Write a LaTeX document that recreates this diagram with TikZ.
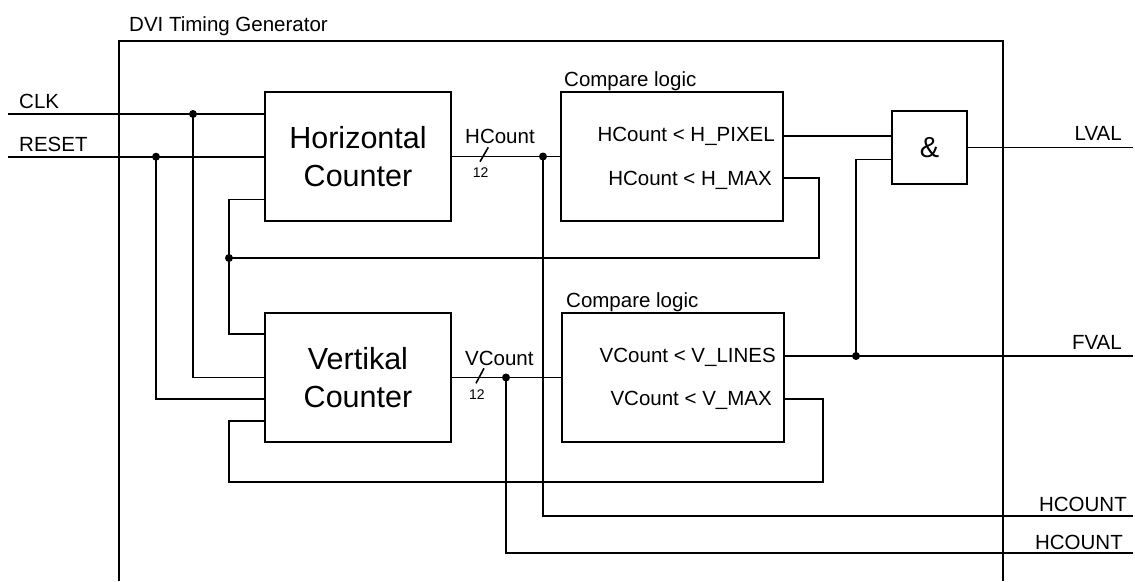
\documentclass[tikz,border=0pt]{standalone}
\usepackage{fontspec}
\setmainfont{Liberation Sans}
\newcommand\fsN{\fontsize{20.5}{24}\selectfont}
\newcommand\fsS{\fontsize{14}{16}\selectfont}
\newcommand\fsB{\fontsize{30.5}{37.3}\selectfont}
\newcommand\fsA{\fontsize{29}{32}\selectfont}
\begin{document}
\begin{tikzpicture}[x=1pt,y=-1pt,
  frame/.style={line width=2.8pt},
  box/.style={draw, line width=2.6pt, inner sep=0pt, outer sep=0pt},
  wire/.style={line width=1.6pt},
  dot/.style={circle, fill=black, inner sep=0pt, minimum size=8pt},
  lbl/.style={inner sep=0pt, font=\fsN},
  small/.style={inner sep=0pt, font=\fsS}]
\useasboundingbox (0,0) rectangle (1135,581);

% outer frame (open at the bottom)
\draw[frame] (119,581) -- (119,41) -- (1003,41) -- (1003,581);
\node[lbl, anchor=base west] (title) at (129,31) {DVI Timing Generator};

% blocks
\node[box, minimum width=186pt, minimum height=129pt, font=\fsB, align=center] (hc) at (358,156.5) {Horizontal\\Counter};
\node[box, minimum width=186pt, minimum height=129pt, font=\fsB, align=center] (vc) at (358,377.5) {Vertikal\\Counter};
\node[box, minimum width=222pt, minimum height=129pt] (c1) at (672,156.5) {};
\node[box, minimum width=222pt, minimum height=129pt] (c2) at (673,377.5) {};
\node[box, minimum width=75pt, minimum height=73pt, font=\fsA] (and) at (929.5,147.5) {\&};

\node[lbl, anchor=base west] (c1lbl) at (564,86.7) {Compare logic};
\node[lbl, anchor=base west] (c2lbl) at (566,307.7) {Compare logic};
\node[lbl, anchor=base east] (hpixt) at (775,141.7) {HCount < H\_PIXEL};
\node[lbl, anchor=base east] (hmaxt) at (772,185) {HCount < H\_MAX};
\node[lbl, anchor=base east] (vlint) at (776,362.3) {VCount < V\_LINES};
\node[lbl, anchor=base east] (vmaxt) at (772,405.7) {VCount < V\_MAX};

% inputs
\coordinate (clkin) at (8,114);
\coordinate (rstin) at (8,156.7);
\coordinate (clkdot) at (193,114);
\coordinate (rstdot) at (156,156.7);
\coordinate (vrst) at (156,399);
\node[lbl, anchor=base west] (clklbl) at (19,108) {CLK};
\node[lbl, anchor=base west] (rstlbl) at (19,151.7) {RESET};
\draw[wire] (clkin) -- (clkin -| hc.west);
\draw[wire] (rstin) -- (rstin -| hc.west);
\draw[wire] (clkdot) |- (vc.west);
\draw[wire] (rstdot) -- (vrst) -- (vrst -| vc.west);
\node[dot] (clkd) at (clkdot) {};
\node[dot] (rstd) at (rstdot) {};

% horizontal feedback
\coordinate (fbdot) at (229,258);
\coordinate (hfbin) at (229,199.3);
\coordinate (vfbin) at (229,334);
\coordinate (hmaxc) at (819,177.7);
\draw[wire] (hfbin -| hc.west) -- (hfbin) -- (vfbin) -- (vfbin -| vc.west);
\draw[wire] (c1.east |- hmaxc) -- (hmaxc) -- (hmaxc |- fbdot) -- (fbdot);
\node[dot] (fbd) at (fbdot) {};

% vertical feedback
\coordinate (vmaxc) at (823,399);
\coordinate (vloop) at (229,481.7);
\coordinate (vloopin) at (229,421);
\draw[wire] (c2.east |- vmaxc) -- (vmaxc) -- (vmaxc |- vloop) -- (vloop) -- (vloopin) -- (vloopin -| vc.west);

% HCount bus
\draw[wire] (hc.east) -- (c1.west);
\coordinate (hsl1) at (480,161.7);
\coordinate (hsl2) at (488.3,147.3);
\draw[wire] (hsl1) -- (hsl2);
\node[lbl, anchor=base west] (hcl) at (465,143.3) {HCount};
\node[small, anchor=base west] (hcw) at (472.7,177.3) {12};
\coordinate (hdot) at (543,156.5);
\coordinate (hout) at (1133,515.7);
\draw[wire] (hdot) |- (hout);
\node[dot] (hd) at (hdot) {};
\node[lbl, anchor=base east] (hol) at (1127,511.7) {HCOUNT};

% VCount bus
\draw[wire] (vc.east) -- (c2.west);
\coordinate (vsl1) at (476,383.3);
\coordinate (vsl2) at (484,368.3);
\draw[wire] (vsl1) -- (vsl2);
\node[lbl, anchor=base west] (vcl) at (465,365) {VCount};
\node[small, anchor=base west] (vcw) at (469,399) {12};
\coordinate (vdot) at (506,377.5);
\coordinate (vout) at (1133,552.7);
\draw[wire] (vdot) |- (vout);
\node[dot] (vd) at (vdot) {};
\node[lbl, anchor=base east] (vol) at (1123,549) {HCOUNT};

% outputs
\coordinate (hpix) at (783,135.7);
\draw[wire] (c1.east |- hpix) -- (hpix -| and.west);
\coordinate (lvalout) at (1133,147.5);
\draw[wire] (and.east) -- (lvalout);
\node[lbl, anchor=base east] (lvall) at (1122,140.7) {LVAL};
\coordinate (fvalout) at (1133,356);
\coordinate (fdot) at (856,356);
\coordinate (andin2) at (856,159.3);
\draw[wire] (c2.east |- fvalout) -- (fvalout);
\draw[wire] (fdot) -- (andin2) -- (andin2 -| and.west);
\node[dot] (fd) at (fdot) {};
\node[lbl, anchor=base east] (fvall) at (1122,349.3) {FVAL};
\end{tikzpicture}
\end{document}
